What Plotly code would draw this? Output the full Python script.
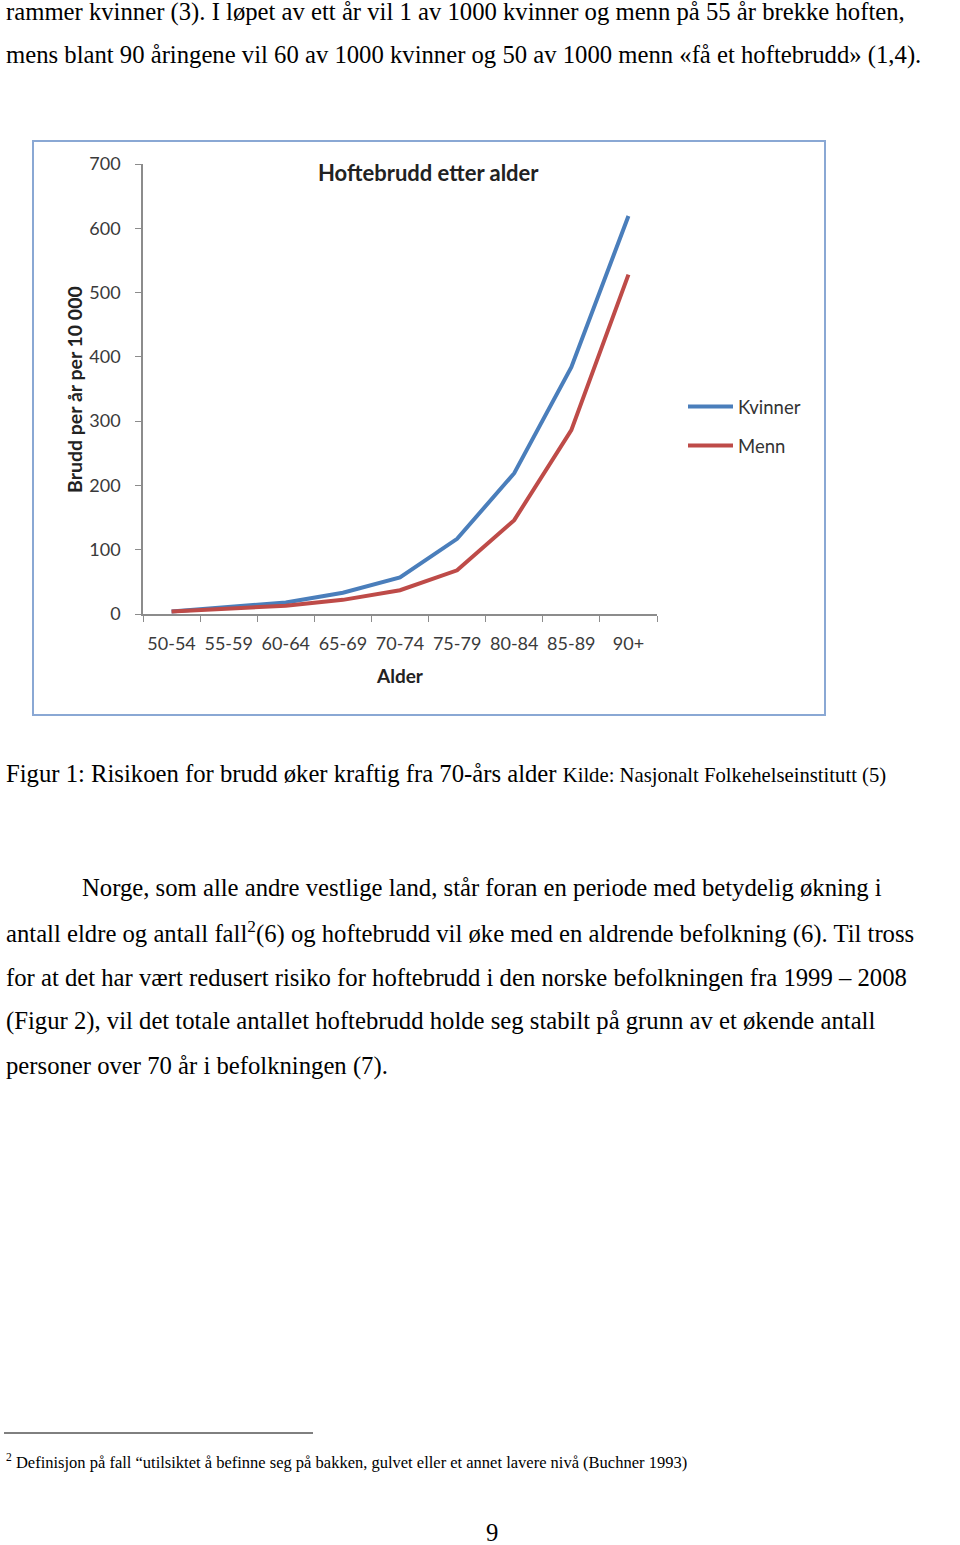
import plotly.graph_objects as go

# data
alder = ["50-54", "55-59", "60-64", "65-69", "70-74", "75-79", "80-84", "85-89", "90+"]
kvinner = [4, 11, 18, 33, 57, 117, 219, 384, 619]
menn = [4, 8, 13, 22, 37, 68, 146, 286, 528]
y_ticks = [0, 100, 200, 300, 400, 500, 600, 700]

W, H = 960, 1545


def px_x(x):
    return x / W


def px_y(y):
    return 1 - y / H


BLUE = "#4a7ebb"
RED = "#be4b48"
CHART_FONT = "Lato"
SERIF = "Liberation Serif"

fig = go.Figure()
fig.add_trace(go.Scatter(x=alder, y=kvinner, mode="lines", name="Kvinner",
                         line=dict(color=BLUE, width=4), legendgroup="k"))
fig.add_trace(go.Scatter(x=alder, y=menn, mode="lines", name="Menn",
                         line=dict(color=RED, width=4), legendgroup="m"))

axis_col = "#8c8c8c"
tick_font = dict(family=CHART_FONT, size=18, color="#3a3a3a")
fig.update_xaxes(
    domain=[px_x(143), px_x(657)], automargin=False,
    type="category", tickson="boundaries", range=[-0.5, len(alder) - 0.5],
    tickangle=0,
    ticks="outside", ticklen=6, tickcolor=axis_col, ticklabelstandoff=13,
    showline=True, linecolor=axis_col, linewidth=1.5,
    showgrid=False, zeroline=False, tickfont=tick_font,
)
fig.update_yaxes(
    domain=[px_y(614), px_y(164)], automargin=False,
    range=[0, 700], tickvals=y_ticks,
    ticks="outside", ticklen=6, tickcolor=axis_col, ticklabelstandoff=11,
    showline=True, linecolor=axis_col, linewidth=1.5,
    showgrid=False, zeroline=False, tickfont=tick_font,
)

annotations = [
    dict(x=px_x(428), y=px_y(172), text="<b>Hoftebrudd etter alder</b>",
         font=dict(family=CHART_FONT, size=22, color="#222222"), xanchor="center"),
    dict(x=px_x(74), y=px_y(390), text="<b>Brudd per år per 10 000</b>", textangle=-90,
         font=dict(family=CHART_FONT, size=19.5, color="#222222"), xanchor="center"),
    dict(x=px_x(400), y=px_y(675), text="<b>Alder</b>",
         font=dict(family=CHART_FONT, size=19, color="#222222"), xanchor="center"),
]

body = 24.7
doc_lines = [
    (4, 12, "rammer kvinner (3). I løpet av ett år vil 1 av 1000 kvinner og menn på 55 år brekke hoften,", body),
    (4, 55, "mens blant 90 åringene vil 60 av 1000 kvinner og 50 av 1000 menn «få et hoftebrudd» (1,4).", body),
    (4, 773, "Figur 1: Risikoen for brudd øker kraftig fra 70-års alder "
             "<span style='font-size:20.7px'>Kilde: Nasjonalt Folkehelseinstitutt (5)</span>", body),
    (80, 888, "Norge, som alle andre vestlige land, står foran en periode med betydelig økning i", body),
    (4, 932, "antall eldre og antall fall<sup>2</sup>(6) og hoftebrudd vil øke med en aldrende befolkning (6). Til tross", body),
    (4, 977, "for at det har vært redusert risiko for hoftebrudd i den norske befolkningen fra 1999 – 2008", body),
    (4, 1021, "(Figur 2), vil det totale antallet hoftebrudd holde seg stabilt på grunn av et økende antall", body),
    (4, 1066, "personer over 70 år i befolkningen (7).", body),
    (4, 1461, "<sup>2</sup> Definisjon på fall “utilsiktet å befinne seg på bakken, gulvet eller et annet lavere nivå (Buchner 1993)", 16.5),
    (484, 1532, "9", body),
]
for x, y, txt, size in doc_lines:
    annotations.append(dict(x=px_x(x), y=px_y(y), text=txt, xanchor="left",
                            font=dict(family=SERIF, size=size, color="black")))

for a in annotations:
    a.update(xref="paper", yref="paper", showarrow=False, yanchor="middle")

shapes = [
    dict(type="rect", xref="paper", yref="paper",
         x0=px_x(33), x1=px_x(825), y0=px_y(715), y1=px_y(141),
         line=dict(color="#8aa8d4", width=2)),
    dict(type="line", xref="paper", yref="paper",
         x0=px_x(4), x1=px_x(313), y0=px_y(1433), y1=px_y(1433),
         line=dict(color="black", width=1)),
]

fig.update_layout(
    width=W, height=H,
    margin=dict(l=0, r=0, t=0, b=0, autoexpand=False),
    paper_bgcolor="white", plot_bgcolor="white",
    showlegend=True,
    legend=dict(x=px_x(683), y=px_y(388), xanchor="left", yanchor="top",
                traceorder="grouped", tracegroupgap=12, itemwidth=45,
                font=dict(family=CHART_FONT, size=18.5, color="#333333"),
                bgcolor="rgba(0,0,0,0)"),
    annotations=annotations,
    shapes=shapes,
)

# the page is one printed sheet: drop the browser's default body margin
fig.write_html("out.html", config={"displayModeBar": False},
               post_script="document.body.style.margin = '0';")
